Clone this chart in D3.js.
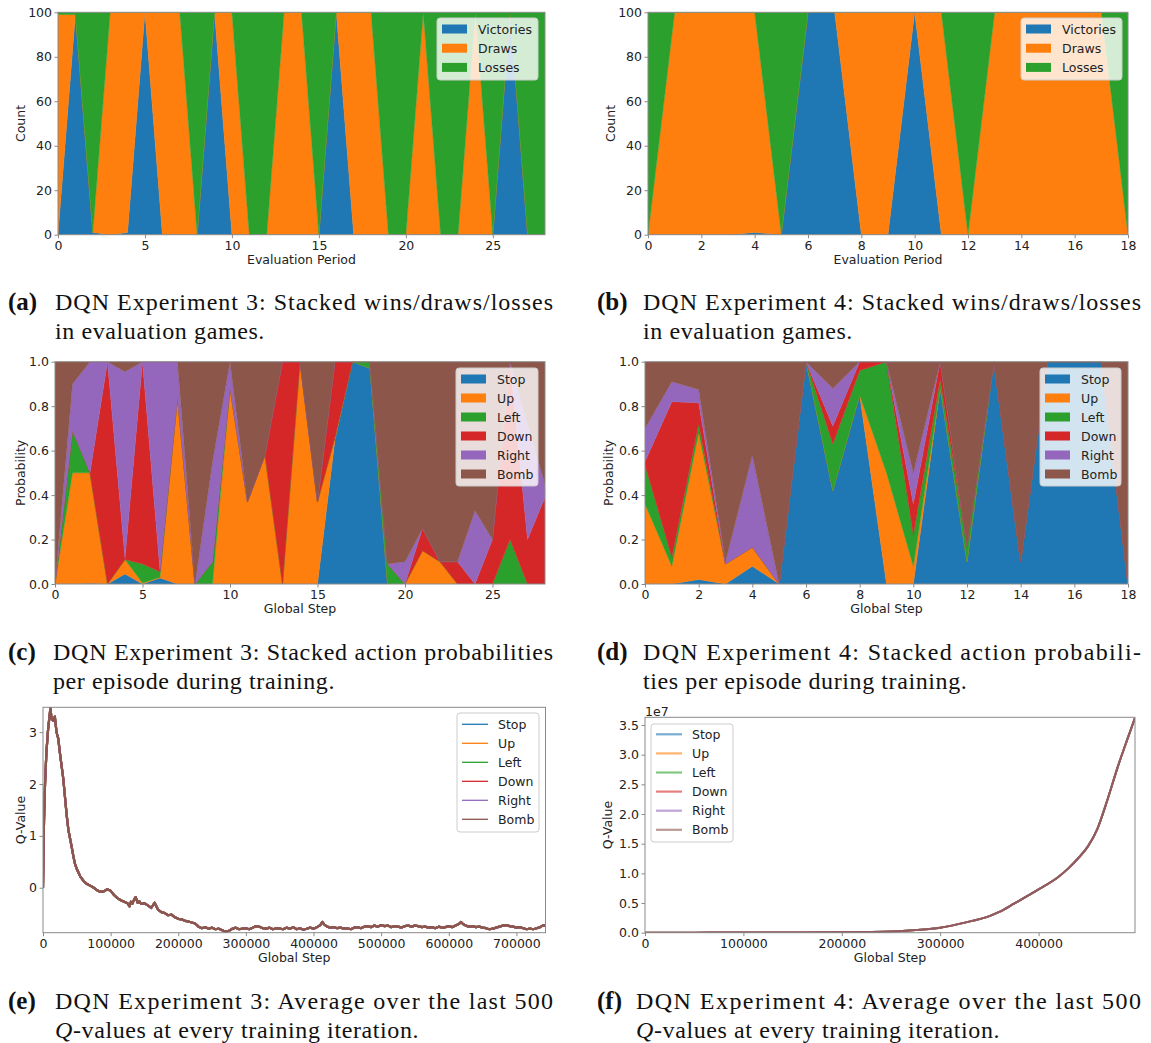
<!DOCTYPE html>
<html><head><meta charset="utf-8">
<script src="https://cdn.jsdelivr.net/npm/d3@7"></script>
<style>
body{margin:0;background:#fff}
svg text{font-family:"DejaVu Sans",sans-serif}
</style>
</head><body>
<svg id="fig" width="1151" height="1043"></svg>
<script>
// ---------------- DATA ----------------
const wdlKeys = ["Victories","Draws","Losses"];
const actionKeys = ["Stop","Up","Left","Down","Right","Bomb"];

// (a) Experiment 3 evaluation games
const periodsA = [0,1,2,3,4,5,6,7,8,9,10,11,12,13,14,15,16,17,18,19,20,21,22,23,24,25,26,27,28];
const victoriesA = [0,99,1,0,1,100,0,0,0,100,0,0,0,0,0,0,100,0,0,0,0,0,0,0,0,0,100,0,0];
const drawsA     = [99,0,0,100,99,0,100,100,0,0,100,0,0,100,100,0,0,100,100,0,0,100,0,0,100,0,0,0,0];
const lossesA    = [1,1,99,0,0,0,0,0,100,0,0,100,100,0,0,100,0,0,0,100,100,0,100,100,0,100,0,100,100];

// (b) Experiment 4 evaluation games
const periodsB = [0,1,2,3,4,5,6,7,8,9,10,11,12,13,14,15,16,17,18];
const victoriesB = [0,0,0,0,1,0,100,100,0,0,100,0,0,0,0,0,0,0,0];
const drawsB     = [0,100,100,100,99,0,0,0,100,100,0,100,0,100,100,100,100,100,0];
const lossesB    = [100,0,0,0,0,100,0,0,0,0,0,0,100,0,0,0,0,0,100];

// (c) Experiment 3 action probabilities
const stepsC = [0,1,2,3,4,5,6,7,8,9,10,11,12,13,14,15,16,17,18,19,20,21,22,23,24,25,26,27,28];
const stopC  = [0,0,0.003,0,0.045,0,0.027,0,0,0,0,0,0,0,0,0,0.65,1.0,0.97,0,0,0,0,0,0,0,0,0,0];
const upC    = [0,0.5,0.497,0,0.065,0.005,0.003,0.84,0,0,0.88,0.37,0.58,0,1.0,0.37,0.01,0,0,0,0,0.15,0.1,0,0,0,0,0,0];
const leftC  = [0,0.19,0,0,0,0.085,0.025,0,0,0.1,0.005,0,0,0,0,0,0,0,0.03,0.09,0,0,0,0,0,0,0.2,0,0];
const downC  = [0,0,0,1.0,0.005,0.91,0.005,0,0,0,0,0,0,1.0,0,0,0.34,0,0,0,0,0.1,0,0.1,0,0.2,0.8,0.2,0.39];
const rightC = [0,0.21,0.5,0,0.84,0,0.94,0.16,0,0.45,0.115,0,0,0,0,0,0,0,0,0,0.1,0,0,0,0.33,0,0,0.52,0.06];
const bombC  = [1,0.1,0,0,0.045,0,0,0,1,0.45,0,0.63,0.42,0,0,0.63,0,0,0,0.91,0.9,0.75,0.9,0.9,0.67,0.8,0,0.28,0.55];

// (d) Experiment 4 action probabilities
const stepsD = [0,1,2,3,4,5,6,7,8,9,10,11,12,13,14,15,16,17,18];
const stopD  = [0,0,0.02,0,0.08,0,1,0.42,0.85,0,0,0.88,0.1,1,0.1,1,1,1,0];
const upD    = [0.36,0.08,0.66,0.09,0.085,0,0,0,0,0.5,0.08,0,0,0,0,0,0,0,0];
const leftD  = [0.175,0.04,0.04,0,0,0,0,0.21,0.11,0.5,0.14,0.04,0.07,0,0,0,0,0,0];
const downD  = [0.015,0.70,0.095,0,0,0,0,0.08,0.04,0,0.14,0.08,0,0,0,0,0,0,0];
const rightD = [0.15,0.09,0.06,0.01,0.415,0,0,0.17,0,0,0.14,0,0,0,0,0,0,0,0];
const bombD  = [0.30,0.09,0.125,0.90,0.42,1,0,0.12,0,0,0.5,0,0.83,0,0.9,0,0,0,1];

// (e) Experiment 3 average Q-values (all six actions overlap)
const q3Steps = [0,1500,3000,5000,7500,10000,11000,12500,15000,17500,20000,22500,25000,27500,30000,32500,35000,37500,40000,42500,45000,47500,50000,55000,60000,65000,70000,75000,80000,85000,90000,95000,100000,105000,110000,115000,120000,125000,128000,130000,132000,135000,137000,140000,142500,145000,150000,155000,160000,165000,170000,175000,180000,185000,190000,195000,200000,205000,210000,215000,220000,225000,230000,235000,240000,245000,250000,255000,260000,265000,270000,275000,280000,285000,290000,295000,300000,305000,310000,315000,320000,325000,330000,335000,340000,345000,350000,355000,360000,365000,370000,375000,380000,385000,390000,395000,400000,405000,410000,413000,416000,420000,425000,430000,435000,440000,445000,450000,455000,460000,465000,470000,475000,480000,485000,490000,495000,500000,505000,510000,515000,520000,525000,530000,535000,540000,545000,550000,555000,560000,565000,570000,575000,580000,585000,590000,595000,600000,605000,610000,615000,618000,621000,625000,630000,635000,640000,645000,650000,655000,660000,665000,670000,675000,680000,685000,690000,695000,700000,705000,710000,715000,720000,725000,730000,735000,740000,743000];
const q3Values = [0,1.3,2.0,2.6,3.05,3.35,3.47,3.27,3.22,3.3,3.0,2.88,2.6,2.35,2.1,1.75,1.4,1.12,0.95,0.78,0.6,0.45,0.36,0.22,0.13,0.07,0.04,0.0,-0.05,-0.08,-0.07,-0.03,-0.06,-0.14,-0.2,-0.24,-0.27,-0.3,-0.36,-0.27,-0.31,-0.22,-0.18,-0.29,-0.26,-0.31,-0.3,-0.34,-0.39,-0.29,-0.42,-0.47,-0.49,-0.53,-0.52,-0.57,-0.6,-0.61,-0.64,-0.65,-0.67,-0.69,-0.75,-0.78,-0.76,-0.79,-0.77,-0.8,-0.79,-0.82,-0.85,-0.83,-0.79,-0.77,-0.8,-0.79,-0.78,-0.8,-0.77,-0.74,-0.75,-0.78,-0.79,-0.77,-0.8,-0.78,-0.79,-0.8,-0.77,-0.79,-0.76,-0.8,-0.78,-0.81,-0.79,-0.77,-0.79,-0.76,-0.72,-0.66,-0.71,-0.75,-0.77,-0.76,-0.78,-0.77,-0.79,-0.78,-0.8,-0.77,-0.76,-0.78,-0.75,-0.74,-0.76,-0.73,-0.75,-0.72,-0.74,-0.73,-0.76,-0.74,-0.75,-0.77,-0.74,-0.73,-0.75,-0.73,-0.74,-0.76,-0.75,-0.77,-0.76,-0.78,-0.75,-0.77,-0.76,-0.74,-0.76,-0.73,-0.7,-0.66,-0.7,-0.73,-0.75,-0.74,-0.76,-0.75,-0.77,-0.78,-0.8,-0.79,-0.77,-0.75,-0.73,-0.72,-0.74,-0.75,-0.77,-0.76,-0.78,-0.8,-0.79,-0.8,-0.78,-0.76,-0.72,-0.74];

// (f) Experiment 4 average Q-values (all six actions overlap)
const q4Steps  = [0,50000,100000,150000,200000,225000,250000,275000,300000,325000,350000,360000,375000,400000,420000,430000,440000,450000,460000,470000,480000,490000,498000];
const q4Values = [0,10000,20000,40000,80000,120000,200000,450000,840000,1700000,2800000,3500000,4900000,7300000,9400000,10800000,12500000,14500000,17600000,22400000,27700000,32500000,36200000];

// tick labels
const ticksA = [0,5,10,15,20,25], ticksB = [0,2,4,6,8,10,12,14,16,18];
const ticksCount = [0,20,40,60,80,100], ticksProb = [0,0.2,0.4,0.6,0.8,1.0];
const ticksQ3x = [0,100000,200000,300000,400000,500000,600000,700000], ticksQ3y = [0,1,2,3];
const ticksQ4x = [0,100000,200000,300000,400000], ticksQ4y = [0,5e6,1e7,1.5e7,2e7,2.5e7,3e7,3.5e7];

const wdlColors = ["#1f77b4","#ff7f0e","#2ca02c"];
const actColors = ["#1f77b4","#ff7f0e","#2ca02c","#d62728","#9467bd","#8c564b"];

// ---------------- DRAWING ----------------
const svg = d3.select("#fig");
const FS = 12.5, TXT = "#222", SPINE = "#8a8a8a";
let clipId = 0;

function setup(b, xDomain, yDomain) {
  const g = svg.append("g");
  const x = d3.scaleLinear().domain(xDomain).range([b.left, b.right]);
  const y = d3.scaleLinear().domain(yDomain).range([b.bottom, b.top]);
  const id = "clip" + (clipId++);
  g.append("clipPath").attr("id", id).append("rect")
    .attr("x", b.left).attr("y", b.top).attr("width", b.right - b.left).attr("height", b.bottom - b.top);
  const plot = g.append("g").attr("clip-path", `url(#${id})`);
  return {g, x, y, plot};
}

function axes(P, b, cfg) {
  const {g, x, y} = P;
  const gx = g.append("g").attr("transform", `translate(0,${b.bottom})`)
    .call(d3.axisBottom(x).tickValues(cfg.xTicks).tickSize(3.5).tickPadding(2.5).tickFormat(cfg.xFmt || d3.format("d")));
  const gy = g.append("g").attr("transform", `translate(${b.left},0)`)
    .call(d3.axisLeft(y).tickValues(cfg.yTicks).tickSize(3.5).tickPadding(2.5).tickFormat(cfg.yFmt));
  [gx, gy].forEach(a => {
    a.select(".domain").remove();
    a.attr("font-family", null).attr("font-size", null);
    a.selectAll("line").attr("stroke", SPINE);
    a.selectAll("text").attr("fill", TXT).style("font-size", FS + "px");
  });
  g.append("rect").attr("x", b.left).attr("y", b.top).attr("width", b.right - b.left).attr("height", b.bottom - b.top)
    .attr("fill", "none").attr("stroke", SPINE).attr("stroke-width", 1);
  g.append("text").attr("x", (b.left + b.right) / 2).attr("y", cfg.xLabelY).attr("text-anchor", "middle")
    .attr("dominant-baseline", "central").style("font-size", FS + "px").attr("fill", TXT).text(cfg.xLabel);
  g.append("text").attr("transform", `translate(${cfg.yLabelX},${(b.top + b.bottom) / 2}) rotate(-90)`)
    .attr("text-anchor", "middle").attr("dominant-baseline", "central").style("font-size", FS + "px")
    .attr("fill", TXT).text(cfg.yLabel);
}

function legend(g, L, keys, colors, kind, opts) {
  opts = opts || {};
  g.append("rect").attr("x", L.x).attr("y", L.y).attr("width", L.w).attr("height", L.h).attr("rx", 3)
    .attr("fill", "white").attr("fill-opacity", 0.8).attr("stroke", "#cccccc").attr("stroke-width", 1);
  keys.forEach((k, i) => {
    const cy = L.row0 + i * L.gap;
    if (kind === "patch") {
      g.append("rect").attr("x", L.x + 5).attr("y", cy - 4.5).attr("width", 25).attr("height", 9).attr("fill", colors[i]);
    } else {
      g.append("line").attr("x1", L.x + 5).attr("x2", L.x + 31).attr("y1", cy).attr("y2", cy)
        .attr("stroke", colors[i]).attr("stroke-width", opts.lw || 1.3).attr("stroke-opacity", opts.op || 1);
    }
    g.append("text").attr("x", L.x + 41).attr("y", cy).attr("dominant-baseline", "central")
      .style("font-size", FS + "px").attr("fill", TXT).text(k);
  });
}

function stackPanel(b, xs, keys, series, colors, xDomain, yDomain, cfg, L) {
  const P = setup(b, xDomain, yDomain);
  const rows = xs.map((xv, i) => { const o = {x: xv}; keys.forEach((k, j) => o[k] = series[j][i]); return o; });
  const stacked = d3.stack().keys(keys)(rows);
  const area = d3.area().x(d => P.x(d.data.x)).y0(d => P.y(d[0])).y1(d => P.y(d[1]));
  P.plot.selectAll("path.layer").data(stacked).join("path").attr("class", "layer")
    .attr("d", area).attr("fill", (d, i) => colors[i]).attr("stroke", (d, i) => colors[i]).attr("stroke-width", 0.4);
  axes(P, b, cfg);
  legend(P.g, L, keys, colors, "patch");
  return P;
}

function linePanel(b, xs, ys, keys, colors, xDomain, yDomain, cfg, L, style) {
  const P = setup(b, xDomain, yDomain);
  const line = d3.line().x((d, i) => P.x(xs[i])).y(d => P.y(d));
  if (style.curve) line.curve(style.curve);
  keys.forEach((k, i) => {
    P.plot.append("path").attr("d", line(ys)).attr("fill", "none").attr("stroke", colors[i])
      .attr("stroke-width", style.lw).attr("stroke-opacity", style.op).attr("stroke-linejoin", "round");
  });
  axes(P, b, cfg);
  legend(P.g, L, keys, colors, "line", {lw: style.legendLw, op: style.op});
  return P;
}

// Panel boxes
const bA = {left: 58, right: 545, top: 12.3, bottom: 234.7};
const bB = {left: 648, right: 1128, top: 12.3, bottom: 234.7};
const bC = {left: 55, right: 545, top: 361.7, bottom: 584};
const bD = {left: 645, right: 1128, top: 361.7, bottom: 584};
const bE = {left: 43, right: 545.5, top: 707.3, bottom: 932.7};
const bF = {left: 645, right: 1135, top: 717.3, bottom: 932.7};

stackPanel(bA, periodsA, wdlKeys, [victoriesA, drawsA, lossesA], wdlColors, [0, 28], [0, 100],
  {xTicks: ticksA, yTicks: ticksCount, yFmt: d3.format("d"), xLabel: "Evaluation Period", xLabelY: 259, yLabel: "Count", yLabelX: 20},
  {x: 437, y: 18, w: 101, h: 62, row0: 29, gap: 19.2});

stackPanel(bB, periodsB, wdlKeys, [victoriesB, drawsB, lossesB], wdlColors, [0, 18], [0, 100],
  {xTicks: ticksB, yTicks: ticksCount, yFmt: d3.format("d"), xLabel: "Evaluation Period", xLabelY: 259, yLabel: "Count", yLabelX: 610},
  {x: 1021, y: 18, w: 101, h: 62, row0: 29, gap: 19.2});

stackPanel(bC, stepsC, actionKeys, [stopC, upC, leftC, downC, rightC, bombC], actColors, [0, 28], [0, 1],
  {xTicks: ticksA, yTicks: ticksProb, yFmt: d3.format(".1f"), xLabel: "Global Step", xLabelY: 608.5, yLabel: "Probability", yLabelX: 20},
  {x: 456, y: 368, w: 82, h: 118, row0: 379, gap: 19});

stackPanel(bD, stepsD, actionKeys, [stopD, upD, leftD, downD, rightD, bombD], actColors, [0, 18], [0, 1],
  {xTicks: ticksB, yTicks: ticksProb, yFmt: d3.format(".1f"), xLabel: "Global Step", xLabelY: 608.5, yLabel: "Probability", yLabelX: 608},
  {x: 1040, y: 368, w: 81, h: 118, row0: 379, gap: 19});

linePanel(bE, q3Steps, q3Values, actionKeys, actColors, [0, 743000], [-0.867, 3.48],
  {xTicks: ticksQ3x, yTicks: ticksQ3y, yFmt: d3.format("d"), xLabel: "Global Step", xLabelY: 957.5, yLabel: "Q-Value", yLabelX: 20},
  {x: 457, y: 713, w: 82, h: 119, row0: 724.3, gap: 19},
  {lw: 2.2, op: 1, legendLw: 1.3});

const PF = linePanel(bF, q4Steps, q4Values, actionKeys, actColors, [0, 498000], [0, 3.63e7],
  {xTicks: ticksQ4x, yTicks: ticksQ4y, yFmt: d => (d / 1e7).toFixed(1), xLabel: "Global Step", xLabelY: 957.5, yLabel: "Q-Value", yLabelX: 607},
  {x: 651, y: 724, w: 82, h: 118, row0: 734.3, gap: 19.1},
  {lw: 2, op: 0.6, legendLw: 2.2, curve: d3.curveMonotoneX});
PF.g.append("text").attr("x", 645).attr("y", 711.5).attr("dominant-baseline", "central")
  .style("font-size", FS + "px").attr("fill", TXT).text("1e7");

// ---------------- CAPTIONS ----------------
const CAP_FONT = '"Liberation Serif","Times New Roman",serif';
function caption(xLabel, xText, xEnd, base, label, line1, line2) {
  const g = svg.append("g").attr("fill", "#111");
  g.append("text").attr("x", xLabel).attr("y", base).style("font-family", CAP_FONT).style("font-size", "25px")
    .style("font-weight", "bold").text(label);
  g.append("text").attr("x", xText).attr("y", base).style("font-family", CAP_FONT).style("font-size", "24px")
    .attr("textLength", xEnd - xText).attr("lengthAdjust", "spacing").text(line1);
  const t2 = g.append("text").attr("x", xText).attr("y", base + 29).style("font-family", CAP_FONT)
    .style("font-size", "24px").style("letter-spacing", "0.6px");
  line2.forEach(p => t2.append("tspan").style("font-style", p.italic ? "italic" : "normal").text(p.t));
}
caption(8, 55, 553, 310, "(a)", "DQN Experiment 3: Stacked wins/draws/losses", [{t: "in evaluation games."}]);
caption(597, 643, 1141, 310, "(b)", "DQN Experiment 4: Stacked wins/draws/losses", [{t: "in evaluation games."}]);
caption(8, 53, 553, 660, "(c)", "DQN Experiment 3: Stacked action probabilities", [{t: "per episode during training."}]);
caption(597, 643, 1141, 660, "(d)", "DQN Experiment 4: Stacked action probabili-", [{t: "ties per episode during training."}]);
caption(8, 55, 553, 1009, "(e)", "DQN Experiment 3: Average over the last 500", [{t: "Q", italic: true}, {t: "-values at every training iteration."}]);
caption(597, 636, 1141, 1009, "(f)", "DQN Experiment 4: Average over the last 500", [{t: "Q", italic: true}, {t: "-values at every training iteration."}]);
</script>
</body></html>
